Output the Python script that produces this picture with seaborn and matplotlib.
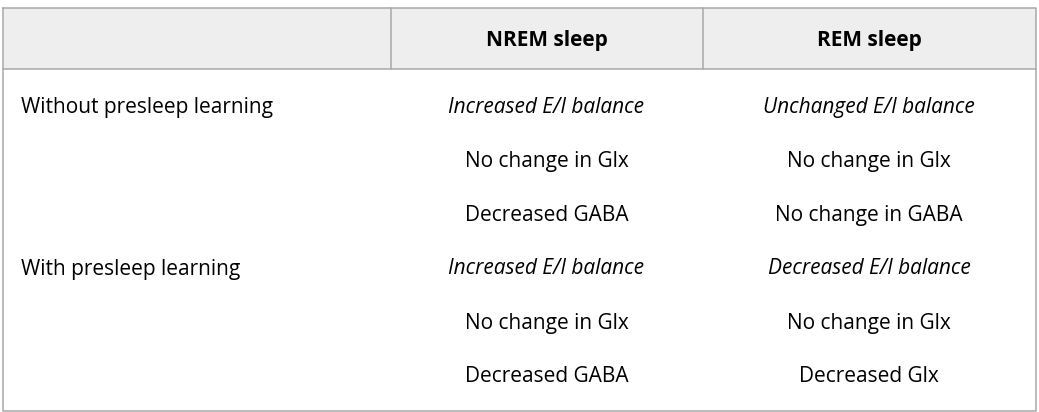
import matplotlib
matplotlib.use("Agg")
import matplotlib.pyplot as plt
import seaborn as sns

sns.set_theme(style="white")
plt.rcParams['font.family'] = ['Open Sans', 'DejaVu Sans']

# ---- table content ----
col_headers = ["", "NREM sleep", "REM sleep"]
row_labels = ["Without presleep learning", "", "", "With presleep learning", "", ""]
nrem = ["Increased E/I balance", "No change in Glx", "Decreased GABA",
        "Increased E/I balance", "No change in Glx", "Decreased GABA"]
rem = ["Unchanged E/I balance", "No change in Glx", "No change in GABA",
       "Decreased E/I balance", "No change in Glx", "Decreased Glx"]
italic_rows = [0, 3]

# ---- layout (pixels) ----
W, H = 1039, 412
left, right, top, bottom = 2.5, 1035.5, 7.5, 410.5
header_bottom = 68.5
col_edges = [left, 390.5, 702.5, right]
header_y = 40
row_y0, row_step = 107, 54
fs = 15
line_col = "#a8a8a8"
txt_col = "#000000"

fig = plt.figure(figsize=(W / 100, H / 100), dpi=100)
ax = fig.add_axes([0, 0, 1, 1])
ax.set_xlim(0, W)
ax.set_ylim(H, 0)
ax.axis("off")

# header background and grid lines
ax.fill_between([left, right], top, header_bottom, color="#eeeeee", lw=0)
ax.plot([left, right, right, left, left], [top, top, bottom, bottom, top], color=line_col, lw=1.1)
ax.plot([left, right], [header_bottom, header_bottom], color=line_col, lw=1.1)
for x in col_edges[1:3]:
    ax.plot([x, x], [top, header_bottom], color=line_col, lw=1.1)

centers = [(col_edges[i] + col_edges[i + 1]) / 2 for i in range(3)]
for i, h in enumerate(col_headers):
    if h:
        ax.text(centers[i], header_y, h, ha="center", va="center", fontsize=fs,
                fontweight="bold", color=txt_col)

for r in range(len(row_labels)):
    y = row_y0 + r * row_step
    style = "italic" if r in italic_rows else "normal"
    if row_labels[r]:
        ax.text(21, y, row_labels[r], ha="left", va="center", fontsize=fs, color=txt_col)
    ax.text(centers[1], y, nrem[r], ha="center", va="center", fontsize=fs,
            style=style, color=txt_col)
    ax.text(centers[2], y, rem[r], ha="center", va="center", fontsize=fs,
            style=style, color=txt_col)

fig.savefig("out.png", dpi=100)
